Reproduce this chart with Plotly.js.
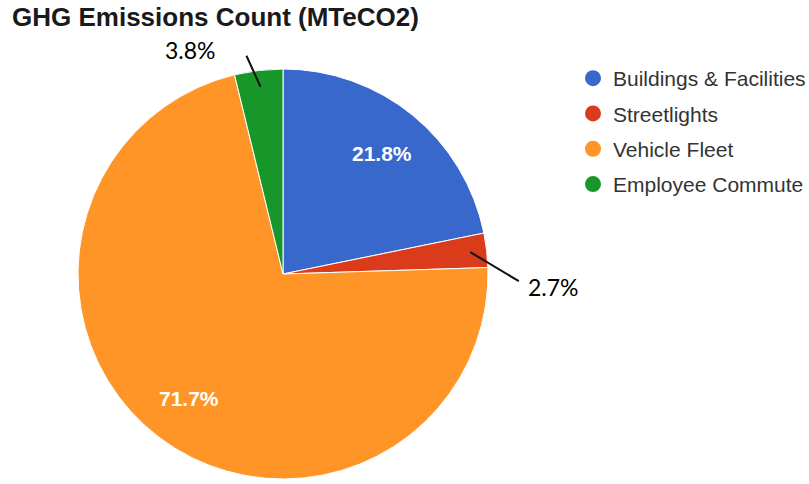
<!DOCTYPE html>
<html>
<head>
<meta charset="utf-8">
<script src="https://cdn.plot.ly/plotly-3.0.1.min.js"></script>
<style>html,body{margin:0;padding:0;background:#fff;}#chart{width:809px;height:484px;}</style>
</head>
<body>
<div id="chart"></div>
<script>
const categories = ['Buildings & Facilities', 'Streetlights', 'Vehicle Fleet', 'Employee Commute'];
const shares = [21.8, 2.7, 71.7, 3.8];
const colors = ['#3868cc', '#da3b1a', '#fe9526', '#17972a'];
const insideLabel = [true, false, true, false];

const W = 809, H = 484;
const dom = {x: [78 / W, 488 / W], y: [1 - 479 / H, 1 - 69 / H]};
const R = 205;
const cxPx = (dom.x[0] + dom.x[1]) / 2 * W;
const cyPx = (1 - (dom.y[0] + dom.y[1]) / 2) * H;

const total = shares.reduce((a, b) => a + b, 0);
const midAngle = [];
let cum = 0;
shares.forEach(v => { midAngle.push((cum + v / 2) / total * 2 * Math.PI); cum += v; });

const pie = {
  type: 'pie',
  labels: categories,
  values: shares,
  sort: false,
  direction: 'clockwise',
  rotation: 0,
  marker: {colors: colors, line: {color: '#ffffff', width: 1}},
  textinfo: 'none',
  domain: dom,
  showlegend: false,
  hoverinfo: 'label+percent'
};

const legendTraces = categories.map((c, i) => ({
  type: 'scatter', mode: 'markers', x: [null], y: [null], name: c,
  legendgroup: 'g' + i,
  marker: {symbol: 'circle', size: 19, color: colors[i]},
  showlegend: true, hoverinfo: 'skip'
}));

const annotations = [];
// inside labels for large slices, placed along each slice's mid angle
shares.forEach((v, i) => {
  if (!insideLabel[i]) return;
  const a = midAngle[i];
  const px = cxPx + 0.76 * R * Math.sin(a);
  const py = cyPx - 0.76 * R * Math.cos(a);
  annotations.push({
    xref: 'paper', yref: 'paper', x: px / W, y: 1 - py / H, xanchor: 'center', yanchor: 'middle',
    showarrow: false, text: (v / total * 100).toFixed(1) + '%',
    font: {family: 'Liberation Sans, Arial, sans-serif', size: 21, color: '#ffffff', weight: 'bold'}
  });
});
// callouts for small slices
const callout = {1: {lineOff: [50, 30], text: [553, 287]}, 3: {lineOff: [-15, -33], text: [190, 50]}};
Object.keys(callout).forEach(k => {
  const i = +k;
  const a = midAngle[i];
  const tx = cxPx + 0.92 * R * Math.sin(a);
  const ty = cyPx - 0.92 * R * Math.cos(a);
  annotations.push({
    xref: 'paper', yref: 'paper', x: tx / W, y: 1 - ty / H,
    text: ' ', font: {size: 1}, showarrow: true, arrowhead: 0, arrowwidth: 2, arrowcolor: '#111111',
    ax: callout[k].lineOff[0], ay: callout[k].lineOff[1], standoff: 0, startstandoff: 0
  });
  annotations.push({
    xref: 'paper', yref: 'paper', x: callout[k].text[0] / W, y: 1 - callout[k].text[1] / H,
    xanchor: 'center', yanchor: 'middle', showarrow: false,
    text: (shares[i] / total * 100).toFixed(1) + '%',
    font: {family: 'Lato, Carlito, sans-serif', size: 23, color: '#000000'}
  });
});

const layout = {
  width: W, height: H,
  margin: {l: 0, r: 0, t: 0, b: 0, autoexpand: false},
  paper_bgcolor: '#ffffff', plot_bgcolor: '#ffffff',
  title: {text: 'GHG Emissions Count (MTeCO2)', x: 12 / W, xanchor: 'left', xref: 'paper', y: 1 - 17 / H, yanchor: 'middle',
    font: {family: 'Liberation Sans, Arial, sans-serif', size: 26, color: '#1a1a1a', weight: 'bold'}},
  xaxis: {visible: false}, yaxis: {visible: false},
  showlegend: true,
  legend: {x: 573 / W, xanchor: 'left', y: 1 - 58 / H, yanchor: 'top', traceorder: 'grouped', tracegroupgap: 5,
    font: {family: 'Liberation Sans, Arial, sans-serif', size: 21, color: '#333333'}, bgcolor: 'rgba(0,0,0,0)', itemwidth: 30},
  annotations: annotations
};

Plotly.newPlot('chart', [pie].concat(legendTraces), layout, {displayModeBar: false, staticPlot: true});
</script>
</body>
</html>
